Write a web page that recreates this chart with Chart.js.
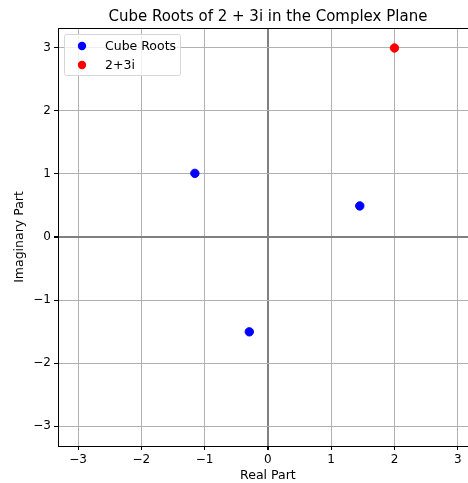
<!DOCTYPE html>
<html>
<head>
<meta charset="utf-8">
<script src="https://cdn.jsdelivr.net/npm/chart.js@4"></script>
<style>
  html, body { margin: 0; padding: 0; background: #fff; overflow: hidden; }
  #wrap { width: 468px; height: 483px; overflow: hidden; }
</style>
</head>
<body>
<div id="wrap"><canvas id="plot" width="483" height="483"></canvas></div>
<script>
// cube roots of 2+3i
const rootsRe = [1.452, -1.154, -0.294];
const rootsIm = [0.493, 1.010, -1.505];
const pointRe = [2];
const pointIm = [3];
const seriesLabels = ['Cube Roots', '2+3i'];
const tickValues = [-3, -2, -1, 0, 1, 2, 3];
const titleText = 'Cube Roots of 2 + 3i in the Complex Plane';

const FONT = 'DejaVu Sans';
const fmt = v => (v < 0 ? '\u2212' + Math.abs(v) : String(v));

// top spine and a title centred over the plot area (matplotlib style)
const frame = {
  id: 'frame',
  afterDatasetsDraw(chart) {
    const a = chart.chartArea;
    const ctx = chart.ctx;
    ctx.save();
    ctx.strokeStyle = '#000';
    ctx.lineWidth = 1;
    ctx.beginPath();
    ctx.moveTo(a.left, Math.round(a.top) + 0.5);
    ctx.lineTo(a.right, Math.round(a.top) + 0.5);
    ctx.stroke();
    ctx.fillStyle = '#000';
    ctx.font = '15px ' + FONT;
    ctx.textAlign = 'center';
    ctx.textBaseline = 'alphabetic';
    ctx.fillText(titleText, (a.left + a.right) / 2, a.top - 7);
    ctx.restore();
  }
};

// legend box drawn inside the plot, top-left, like matplotlib
const innerLegend = {
  id: 'innerLegend',
  afterDraw(chart) {
    const ctx = chart.ctx;
    const a = chart.chartArea;
    const x0 = a.left + 6, y0 = a.top + 6, w = 116, h = 41;
    ctx.save();
    ctx.fillStyle = 'rgba(255,255,255,0.8)';
    ctx.strokeStyle = '#d6d6d6';
    ctx.lineWidth = 1;
    ctx.beginPath();
    ctx.roundRect(x0 + 0.5, y0 + 0.5, w, h, 2);
    ctx.fill();
    ctx.stroke();
    ctx.font = '12.5px ' + FONT;
    ctx.textBaseline = 'middle';
    chart.data.datasets.forEach((ds, i) => {
      const cy = y0 + 12 + i * 19;
      ctx.fillStyle = ds.backgroundColor;
      ctx.beginPath();
      ctx.arc(x0 + 18, cy, 4.2, 0, Math.PI * 2);
      ctx.fill();
      ctx.fillStyle = '#000';
      ctx.fillText(ds.label, x0 + 41, cy + 1);
    });
    ctx.restore();
  }
};

const gridColor = c => (c.tick && c.tick.value === 0 ? '#808080' : '#b0b0b0');
const gridWidth = c => (c.tick && c.tick.value === 0 ? 2 : 1);

new Chart(document.getElementById('plot'), {
  type: 'scatter',
  data: {
    datasets: [
      {
        label: seriesLabels[0],
        data: rootsRe.map((x, i) => ({ x: x, y: rootsIm[i] })),
        backgroundColor: '#0000ff',
        borderColor: '#0000ff',
        pointRadius: 4.2
      },
      {
        label: seriesLabels[1],
        data: pointRe.map((x, i) => ({ x: x, y: pointIm[i] })),
        backgroundColor: '#ff0000',
        borderColor: '#ff0000',
        pointRadius: 4.2
      }
    ]
  },
  options: {
    responsive: false,
    animation: false,
    layout: { padding: { right: 1, left: 0, top: 28, bottom: 0 } },
    plugins: {
      legend: { display: false },
      tooltip: { enabled: false },
      title: { display: false }
    },
    scales: {
      x: {
        type: 'linear',
        min: -3.317,
        max: 3.317,
        afterBuildTicks: s => { s.ticks = tickValues.map(v => ({ value: v })); },
        afterFit: s => { s.height = 37; s.paddingLeft = 0; s.paddingRight = 0; },
        ticks: {
          color: '#000',
          font: { family: FONT, size: 12 },
          padding: 3,
          maxRotation: 0,
          callback: v => fmt(v)
        },
        grid: { color: gridColor, lineWidth: gridWidth, tickLength: 4, tickColor: '#000' },
        border: { color: '#000', width: 1 },
        title: {
          display: true,
          text: 'Real Part',
          color: '#000',
          font: { family: FONT, size: 12.5 },
          padding: { top: 0, bottom: 0 }
        }
      },
      y: {
        type: 'linear',
        min: -3.317,
        max: 3.317,
        afterBuildTicks: s => { s.ticks = tickValues.map(v => ({ value: v })); },
        afterFit: s => { s.width = 58; s.paddingTop = 0; s.paddingBottom = 0; },
        ticks: {
          color: '#000',
          font: { family: FONT, size: 12 },
          padding: 3,
          callback: v => fmt(v)
        },
        grid: { color: gridColor, lineWidth: gridWidth, tickLength: 4, tickColor: '#000' },
        border: { color: '#000', width: 1 },
        title: {
          display: true,
          text: 'Imaginary Part',
          color: '#000',
          font: { family: FONT, size: 12.5 },
          padding: { top: 12, bottom: 0 }
        }
      }
    }
  },
  plugins: [frame, innerLegend]
});
</script>
</body>
</html>
